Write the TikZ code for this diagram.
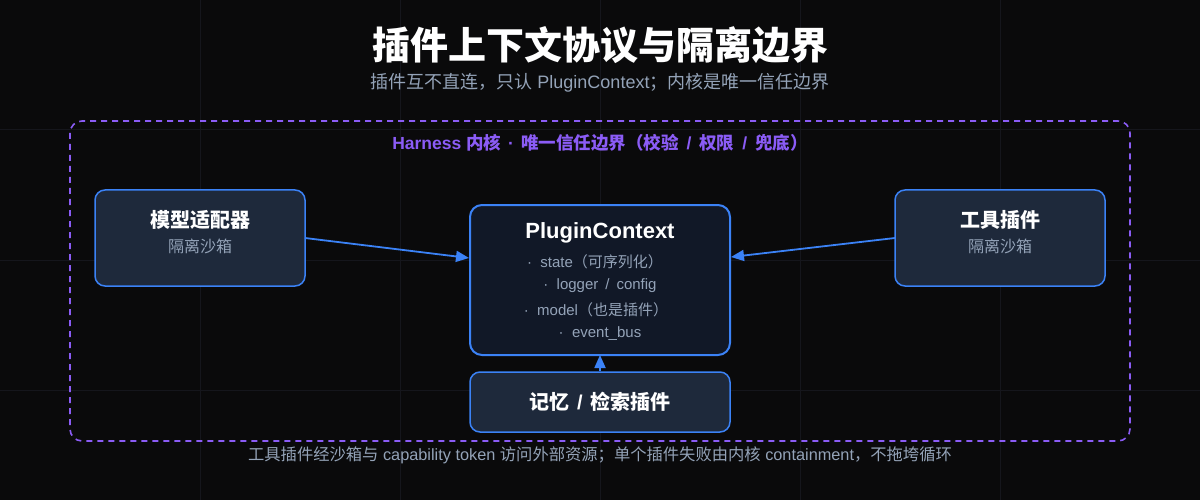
\documentclass[tikz,border=0pt]{standalone}
\usepackage{fontspec}
\setmainfont{Noto Sans CJK SC}
\newfontfamily\lat{Liberation Sans}
\usetikzlibrary{arrows.meta}
\definecolor{bg}{HTML}{0A0A0B}
\definecolor{gridc}{HTML}{15161C}
\definecolor{boxfill}{HTML}{1E293B}
\definecolor{ctxfill}{HTML}{111827}
\definecolor{edge}{HTML}{3B82F6}
\definecolor{purp}{HTML}{8B5CF6}
\definecolor{subt}{HTML}{94A3B8}
\newcommand{\myslash}[1]{{\lat\hspace{#1}/\hspace{#1}}}
\tikzset{
  sidebox/.style={draw=edge, line width=1.5pt, fill=boxfill, rounded corners=10pt},
  ctxbox/.style={draw=edge, line width=2pt, fill=ctxfill, rounded corners=12pt},
  conn/.style={draw=edge, line width=1.8pt, -{Triangle[length=13pt,width=11pt]}},
  ttl/.style={text=white, font=\bfseries\fontsize{20}{23}\selectfont},
  sub/.style={text=subt, font=\fontsize{16}{19}\selectfont},
  item/.style={text=subt, font=\fontsize{15}{18}\selectfont},
}
\begin{document}
\begin{tikzpicture}[x=1pt,y=-1pt]
\fill[bg] (0,0) rectangle (1200,500);
\useasboundingbox (0,0) rectangle (1200,500);
\foreach \gx in {200,400,600,800,1000} \draw[gridc, line width=1pt] (\gx,0) -- (\gx,500);
\foreach \gy in {130,260,390} \draw[gridc, line width=1pt] (0,\gy) -- (1200,\gy);

\node[text=white, font=\bfseries\fontsize{38}{43}\selectfont] (title) at (600,45) {插件上下文协议与隔离边界};
\node[text=subt, font=\fontsize{18}{21}\selectfont] (subtitle) at (600,83) {插件互不直连，只认{\lat\ PluginContext}；内核是唯一信任边界};

\draw[purp, line width=1.6pt, dash pattern=on 6pt off 5pt, rounded corners=12pt] (70,121) rectangle (1130,441);
\node[text=purp, font=\bfseries\fontsize{17.5}{20}\selectfont] (harness) at (600,143) {{\lat Harness\ }内核\hspace{7pt}{\lat ·}\hspace{7pt}唯一信任边界（校验\myslash{8pt}权限\myslash{8pt}兜底）};

\path[sidebox] (95,190) rectangle (305,286);
\coordinate (model) at (200,238);
\node[ttl] (modelt) at (200,220) {模型适配器};
\node[sub] (models) at (200,246) {隔离沙箱};

\path[sidebox] (895,190) rectangle (1105,286);
\coordinate (tool) at (1000,238);
\node[ttl] (toolt) at (1000,220) {工具插件};
\node[sub] (tools) at (1000,246) {隔离沙箱};

\path[ctxbox] (470,205) rectangle (730,355);
\node[text=white, font=\lat\bfseries\fontsize{22}{26}\selectfont] (ctxt) at (600,233) {PluginContext};
\node[item] (i1) at (595,262) {{\lat ·\ \ state}（可序列化）};
\node[item] (i2) at (600,286) {{\lat ·\ \ logger}\myslash{7pt}{\lat config}};
\node[item] (i3) at (596,310) {{\lat ·\ \ model}（也是插件）};
\node[item] (i4) at (600,334) {{\lat ·\ \ event\_bus}};

\path[sidebox] (470,372) rectangle (730,432);
\node[ttl] (memt) at (600,402) {记忆\myslash{8pt}检索插件};

\coordinate (mA) at (305,238);
\coordinate (cL) at (469,258);
\coordinate (tA) at (895,238);
\coordinate (cR) at (731,257);
\coordinate (memtop) at (600,371);
\coordinate (cB) at (600,355);
\draw[conn] (mA) -- (cL);
\draw[conn] (tA) -- (cR);
\draw[conn] (memtop) -- (cB);

\node[text=subt, font=\fontsize{16.3}{19}\selectfont] (footer) at (600,455) {工具插件经沙箱与{\lat\ capability token\ }访问外部资源；单个插件失败由内核{\lat\ containment}，不拖垮循环};
\end{tikzpicture}
\end{document}
